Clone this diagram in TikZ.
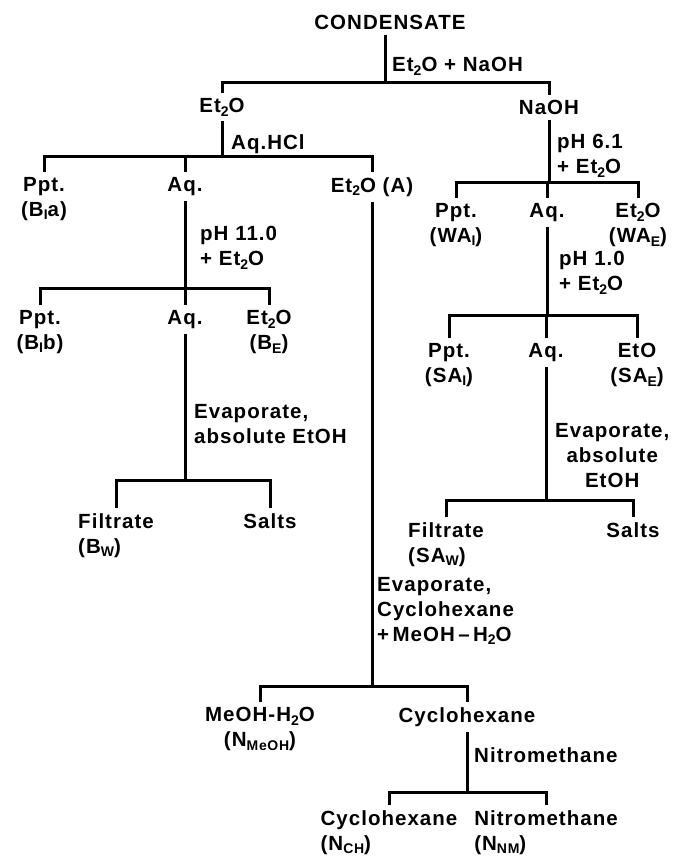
\documentclass[tikz,border=0pt]{standalone}
\usepackage{fontspec}
\setmainfont{Liberation Sans}[LetterSpace=5]
\usetikzlibrary{positioning}
\newcommand{\lowsub}[1]{\raisebox{-3.5pt}{\fontsize{14}{14}\selectfont #1}}
\newcommand{\ethr}{Et\lowsub{2}O}

\begin{document}
\begin{tikzpicture}[x=1pt,y=-1pt,
  every node/.style={font=\fontsize{20.5}{25}\selectfont\bfseries,inner xsep=2pt,inner ysep=5pt},
  frac/.style={anchor=north,align=center},
  reagent/.style={anchor=north west,align=left},
  link/.style={line width=3pt}
]
\useasboundingbox (0,0) rectangle (677,858);
% first split
\node[frac] (cond) at (390,10) {CONDENSATE};
\coordinate (j1) at (385,83);
\node[reagent,anchor=base west] (r1) at (390,72) {\ethr{} + NaOH};
\node[frac] (et) at (222,93) {\ethr};
\node[frac] (naoh) at (549,95) {NaOH};
% ether side
\coordinate (j2) at (222,157);
\node[reagent,anchor=base west] (r2) at (229,150) {Aq.HCl};
\node[frac] (ppt1) at (44,172) {Ppt.\\(B\lowsub{I}a)};
\node[frac] (aq1) at (185,172) {Aq.};
\node[frac] (eta) at (372,172) {\ethr{} (A)};
\coordinate (j3) at (185,288);
\node[reagent] (r6) at (198,221) {pH 11.0\\+ \ethr};
\node[frac] (ppt4) at (40,305) {Ppt.\\(B\lowsub{I}b)};
\node[frac] (aq4) at (185,305) {Aq.};
\node[frac] (et4) at (269,305) {\ethr\\(B\lowsub{E})};
\coordinate (j8) at (185,480);
\node[reagent] (r7) at (192,399) {Evaporate,\\absolute EtOH};
\node[frac,align=left] (filt1) at (116,508) {Filtrate\\(B\lowsub{W})};
\node[frac] (salts1) at (270,508) {Salts};
% neutrals
\coordinate (j6) at (372,686);
\node[reagent] (r8) at (375,572) {Evaporate,\\Cyclohexane\\+\,MeOH\,--\,H\lowsub{2}O};
\node[frac] (meoh) at (260,702) {MeOH-H\lowsub{2}O\\(N\lowsub{MeOH})};
\node[frac] (cyc) at (467,702) {Cyclohexane};
\coordinate (j9) at (467,792);
\node[reagent,anchor=base west] (r9) at (472,762) {Nitromethane};
\node[frac,align=left] (cych) at (389,805) {Cyclohexane\\(N\lowsub{CH})};
\node[frac,align=left] (nitro) at (546,805) {Nitromethane\\(N\lowsub{NM})};
% NaOH side
\coordinate (j4) at (549,183);
\node[reagent] (r3) at (555,129) {pH 6.1\\+ \ethr};
\node[frac] (ppt2) at (456,198) {Ppt.\\(WA\lowsub{I})};
\node[frac] (aq2) at (547,198) {Aq.};
\node[frac] (et2) at (638,198) {\ethr\\(WA\lowsub{E})};
\coordinate (j5) at (547,315);
\node[reagent] (r4) at (557,246) {pH 1.0\\+ \ethr};
\node[frac] (ppt3) at (449,338) {Ppt.\\(SA\lowsub{I})};
\node[frac] (aq3) at (546,338) {Aq.};
\node[frac] (eto) at (637,338) {EtO\\(SA\lowsub{E})};
\coordinate (j7) at (546,500);
\node[reagent,align=center] (r5) at (553,418) {Evaporate,\\absolute\\EtOH};
\node[frac,align=left] (filt2) at (446,517) {Filtrate\\(SA\lowsub{W})};
\node[frac] (salts2) at (633,517) {Salts};
% connectors
\draw[link] (cond.south -| j1) -- (j1);
\draw[link] (et.north) |- (j1) -| (naoh.north);
\draw[link] (et.south) -- (j2);
\draw[link] (ppt1.north) |- (j2) -| (eta.north);
\draw[link] (aq1.north) -- (aq1.north |- j2);
\draw[link] (aq1.south) -- (j3);
\draw[link] (ppt4.north) |- (j3) -| (et4.north);
\draw[link] (aq4.north) -- (aq4.north |- j3);
\draw[link] (aq4.south) -- (j8);
\draw[link] (filt1.north) |- (j8) -| (salts1.north);
\draw[link] (eta.south) -- (j6);
\draw[link] (meoh.north) |- (j6) -| (cyc.north);
\draw[link] (cyc.south) -- (j9);
\draw[link] (cych.north) |- (j9) -| (nitro.north);
\draw[link] (naoh.south) -- (j4);
\draw[link] (ppt2.north) |- (j4) -| (et2.north);
\draw[link] (aq2.north) -- (aq2.north |- j4);
\draw[link] (aq2.south) -- (j5);
\draw[link] (ppt3.north) |- (j5) -| (eto.north);
\draw[link] (aq3.north) -- (aq3.north |- j5);
\draw[link] (aq3.south) -- (j7);
\draw[link] (filt2.north) |- (j7) -| (salts2.north);
\end{tikzpicture}
\end{document}
